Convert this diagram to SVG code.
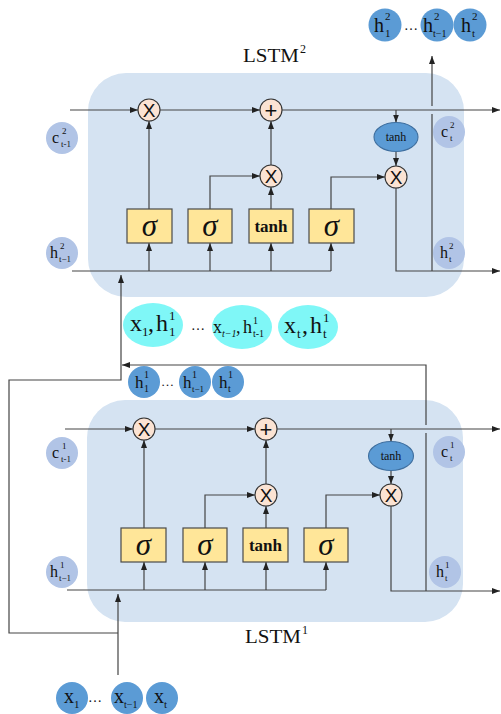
<svg xmlns="http://www.w3.org/2000/svg" width="501" height="714" viewBox="0 0 501 714">
<style>
.cell{fill:#d5e3f2;}
.st{fill:#b1c4e6;}
.out{fill:#5b9bd5;}
.cy{fill:#7ff7f7;}
.gate{fill:#ffe699;stroke:#4a4a4a;stroke-width:1.2;}
.op{fill:#fbe3d3;stroke:#333;stroke-width:1.1;}
.ell{fill:#5b9bd5;stroke:#3f6f9f;stroke-width:1.1;}
.ln{fill:none;stroke:#444;stroke-width:1.2;}
.ar{marker-end:url(#a);}
text{font-family:"Liberation Serif","Times New Roman",serif;fill:#111;}
.sig{font-style:italic;font-size:31px;}
.tb{font-weight:bold;font-size:17px;}
.xs{font-family:"Liberation Sans",Arial,sans-serif;font-size:19px;}
.pl{font-family:"Liberation Sans",Arial,sans-serif;font-size:22px;}
</style>
<defs>
<marker id="a" viewBox="0 0 8 6" refX="8" refY="3" markerWidth="8" markerHeight="6" orient="auto" markerUnits="userSpaceOnUse"><path d="M0,0L8,3L0,6z" fill="#222"/></marker>
</defs>

<!-- LSTM boxes -->
<g id="lstm2-box"><rect class="cell" x="88" y="73" width="376" height="224" rx="38"/></g>
<g id="lstm1-box"><rect class="cell" x="87" y="400" width="376" height="222" rx="38"/></g>

<g id="lstm2-label"><text x="243" y="62" font-size="18" textLength="56" lengthAdjust="spacingAndGlyphs">LSTM</text><text x="300" y="53" font-size="12">2</text></g>
<g id="lstm1-label"><text x="245" y="643" font-size="18" textLength="56" lengthAdjust="spacingAndGlyphs">LSTM</text><text x="302" y="634" font-size="12">1</text></g>

<!-- state circles -->
<g id="c2prev"><circle class="st" cx="62" cy="138" r="16"/><text x="52" y="143" font-size="16">c</text><text x="62" y="134" font-size="9">2</text><text x="61" y="147" font-size="9">t-1</text></g>
<g id="h2prev"><circle class="st" cx="62" cy="253" r="16"/><text x="50" y="258" font-size="16">h</text><text x="60" y="249" font-size="9">2</text><text x="59" y="262" font-size="9">t−1</text></g>
<g id="c2t"><circle class="st" cx="449" cy="132" r="16"/><text x="441" y="137" font-size="16">c</text><text x="450" y="128" font-size="9">2</text><text x="450" y="141" font-size="9">t</text></g>
<g id="h2t"><circle class="st" cx="449" cy="253" r="16"/><text x="440" y="258" font-size="16">h</text><text x="449" y="249" font-size="9">2</text><text x="449" y="262" font-size="9">t</text></g>

<g id="c1prev"><circle class="st" cx="62" cy="453" r="16"/><text x="52" y="458" font-size="16">c</text><text x="62" y="449" font-size="9">1</text><text x="61" y="462" font-size="9">t-1</text></g>
<g id="h1prev"><circle class="st" cx="62" cy="572" r="16"/><text x="50" y="577" font-size="16">h</text><text x="60" y="568" font-size="9">1</text><text x="59" y="581" font-size="9">t−1</text></g>
<g id="c1t"><circle class="st" cx="449" cy="452" r="16"/><text x="441" y="457" font-size="16">c</text><text x="450" y="448" font-size="9">1</text><text x="450" y="461" font-size="9">t</text></g>
<g id="h1t"><circle class="st" cx="445" cy="572" r="16"/><text x="436" y="577" font-size="16">h</text><text x="445" y="568" font-size="9">1</text><text x="445" y="581" font-size="9">t</text></g>

<!-- connectors -->
<g id="connectors">
<!-- LSTM2 -->
<path class="ln ar" d="M70,110H138"/>
<path class="ln ar" d="M160,110H260"/>
<path class="ln ar" d="M282,110H500"/>
<path class="ln ar" d="M149,209V121"/>
<path class="ln ar" d="M210,209V176H260"/>
<path class="ln ar" d="M271,209V187"/>
<path class="ln ar" d="M271,165V121"/>
<path class="ln ar" d="M331,209V177H385"/>
<path class="ln ar" d="M396,110V122.5"/>
<path class="ln ar" d="M396,151.5V166"/>
<path class="ln ar" d="M396,188V271H500"/>
<path class="ln" d="M72,271H331"/>
<path class="ln ar" d="M149,271V243"/>
<path class="ln ar" d="M210,271V243"/>
<path class="ln ar" d="M271,271V243"/>
<path class="ln ar" d="M331,271V243"/>
<path class="ln" d="M432,271V114"/>
<path class="ln ar" d="M432,106V56"/>
<!-- LSTM1 -->
<path class="ln ar" d="M65,429H133"/>
<path class="ln ar" d="M155,429H255"/>
<path class="ln ar" d="M277,429H500"/>
<path class="ln ar" d="M144,528V440"/>
<path class="ln ar" d="M205,528V495H255"/>
<path class="ln ar" d="M266,528V506"/>
<path class="ln ar" d="M266,484V440"/>
<path class="ln ar" d="M326,528V495H380"/>
<path class="ln ar" d="M391,429V441.5"/>
<path class="ln ar" d="M391,470.5V484"/>
<path class="ln ar" d="M391,506V591H500"/>
<path class="ln" d="M67,590H326"/>
<path class="ln ar" d="M144,590V562"/>
<path class="ln ar" d="M205,590V562"/>
<path class="ln ar" d="M266,590V562"/>
<path class="ln ar" d="M326,590V562"/>
<!-- feedback and inputs -->
<path class="ln" d="M426,591V433"/>
<path class="ln ar" d="M426,425V365H122"/>
<path class="ln ar" d="M118,675V594"/>
<path class="ln ar" d="M118,633H9V380H121V275"/>
</g>

<!-- LSTM2 gates -->
<g id="l2-f"><rect class="gate" x="127" y="209" width="45" height="34"/><text class="sig" x="149.5" y="236" text-anchor="middle">σ</text></g>
<g id="l2-i"><rect class="gate" x="188" y="209" width="44" height="34"/><text class="sig" x="210" y="236" text-anchor="middle">σ</text></g>
<g id="l2-g"><rect class="gate" x="249" y="209" width="44" height="34"/><text class="tb" x="271" y="232" text-anchor="middle">tanh</text></g>
<g id="l2-o"><rect class="gate" x="309" y="209" width="45" height="34"/><text class="sig" x="331.5" y="236" text-anchor="middle">σ</text></g>
<g id="l2-x1"><circle class="op" cx="149" cy="110" r="11"/><text class="xs" x="149" y="117" text-anchor="middle">X</text></g>
<g id="l2-plus"><circle class="op" cx="271" cy="110" r="11"/><text class="pl" x="271" y="118" text-anchor="middle">+</text></g>
<g id="l2-x2"><circle class="op" cx="271" cy="176" r="11"/><text class="xs" x="271" y="183" text-anchor="middle">X</text></g>
<g id="l2-tanh"><ellipse class="ell" cx="396" cy="137" rx="22" ry="14.5"/><text x="396" y="141" font-size="12" text-anchor="middle">tanh</text></g>
<g id="l2-x3"><circle class="op" cx="396" cy="177" r="11"/><text class="xs" x="396" y="184" text-anchor="middle">X</text></g>

<!-- LSTM1 gates -->
<g id="l1-f"><rect class="gate" x="121" y="528" width="45" height="34"/><text class="sig" x="143.5" y="555" text-anchor="middle">σ</text></g>
<g id="l1-i"><rect class="gate" x="183" y="528" width="44" height="34"/><text class="sig" x="205" y="555" text-anchor="middle">σ</text></g>
<g id="l1-g"><rect class="gate" x="243" y="528" width="45" height="34"/><text class="tb" x="265.5" y="551" text-anchor="middle">tanh</text></g>
<g id="l1-o"><rect class="gate" x="304" y="528" width="44" height="34"/><text class="sig" x="326" y="555" text-anchor="middle">σ</text></g>
<g id="l1-x1"><circle class="op" cx="144" cy="429" r="11"/><text class="xs" x="144" y="436" text-anchor="middle">X</text></g>
<g id="l1-plus"><circle class="op" cx="266" cy="429" r="11"/><text class="pl" x="266" y="437" text-anchor="middle">+</text></g>
<g id="l1-x2"><circle class="op" cx="266" cy="495" r="11"/><text class="xs" x="266" y="502" text-anchor="middle">X</text></g>
<g id="l1-tanh"><ellipse class="ell" cx="391" cy="456" rx="22.5" ry="14.5"/><text x="391" y="460" font-size="12" text-anchor="middle">tanh</text></g>
<g id="l1-x3"><circle class="op" cx="391" cy="495" r="11"/><text class="xs" x="391" y="502" text-anchor="middle">X</text></g>

<!-- top outputs -->
<g id="out2-1"><circle class="out" cx="385" cy="25" r="16.5"/><text x="374" y="32" font-size="20">h</text><text x="385" y="20" font-size="11">2</text><text x="385" y="37" font-size="11">1</text></g>
<g id="out2-dots"><text x="404" y="30" font-size="14">…</text></g>
<g id="out2-tm1"><circle class="out" cx="437" cy="25" r="16.5"/><text x="423" y="32" font-size="20">h</text><text x="434" y="20" font-size="11">2</text><text x="433" y="37" font-size="10">t−1</text></g>
<g id="out2-t"><circle class="out" cx="470" cy="25" r="16.5"/><text x="461" y="32" font-size="20">h</text><text x="472" y="20" font-size="11">2</text><text x="472" y="37" font-size="11">t</text></g>

<!-- cyan combined inputs -->
<g id="in2-1"><ellipse class="cy" cx="153" cy="325" rx="30" ry="22"/><text x="130" y="331" font-size="24">x</text><text x="142" y="336" font-size="13">1</text><text x="148" y="331" font-size="24">,</text><text x="156" y="331" font-size="24">h</text><text x="169" y="320" font-size="13">1</text><text x="169" y="336" font-size="13">1</text></g>
<g id="in2-dots"><text x="191" y="330" font-size="14">…</text></g>
<g id="in2-tm1"><ellipse class="cy" cx="242" cy="327" rx="30" ry="22"/><text x="213" y="333" font-size="18">x</text><text x="222" y="337" font-size="10" font-style="italic">t−1</text><text x="236" y="333" font-size="18">,</text><text x="243" y="333" font-size="18">h</text><text x="253" y="324" font-size="10">1</text><text x="253" y="337" font-size="10">t-1</text></g>
<g id="in2-t"><ellipse class="cy" cx="308" cy="327" rx="30" ry="22"/><text x="284" y="333" font-size="24">x</text><text x="297" y="338" font-size="13">t</text><text x="302" y="333" font-size="24">,</text><text x="310" y="333" font-size="24">h</text><text x="323" y="322" font-size="13">1</text><text x="323" y="338" font-size="13">t</text></g>

<!-- h1 outputs -->
<g id="out1-1"><circle class="out" cx="144" cy="382" r="16"/><text x="135" y="388" font-size="17">h</text><text x="144" y="378" font-size="10">1</text><text x="144" y="392" font-size="10">1</text></g>
<g id="out1-dots"><text x="161" y="386" font-size="13">…</text></g>
<g id="out1-tm1"><circle class="out" cx="195" cy="382" r="16"/><text x="183" y="388" font-size="17">h</text><text x="192" y="378" font-size="10">1</text><text x="192" y="392" font-size="9">t−1</text></g>
<g id="out1-t"><circle class="out" cx="228" cy="382" r="16"/><text x="219" y="388" font-size="17">h</text><text x="228" y="378" font-size="10">1</text><text x="228" y="392" font-size="10">t</text></g>

<!-- x inputs -->
<g id="x-1"><circle class="out" cx="72" cy="698" r="16"/><text x="64" y="703" font-size="20">x</text><text x="74" y="708" font-size="11">1</text></g>
<g id="x-dots"><text x="88" y="702" font-size="14">…</text></g>
<g id="x-tm1"><circle class="out" cx="127" cy="698" r="16"/><text x="114" y="703" font-size="20">x</text><text x="124" y="708" font-size="10">t−1</text></g>
<g id="x-t"><circle class="out" cx="162" cy="698" r="16"/><text x="154" y="703" font-size="20">x</text><text x="164" y="708" font-size="11">t</text></g>
</svg>
